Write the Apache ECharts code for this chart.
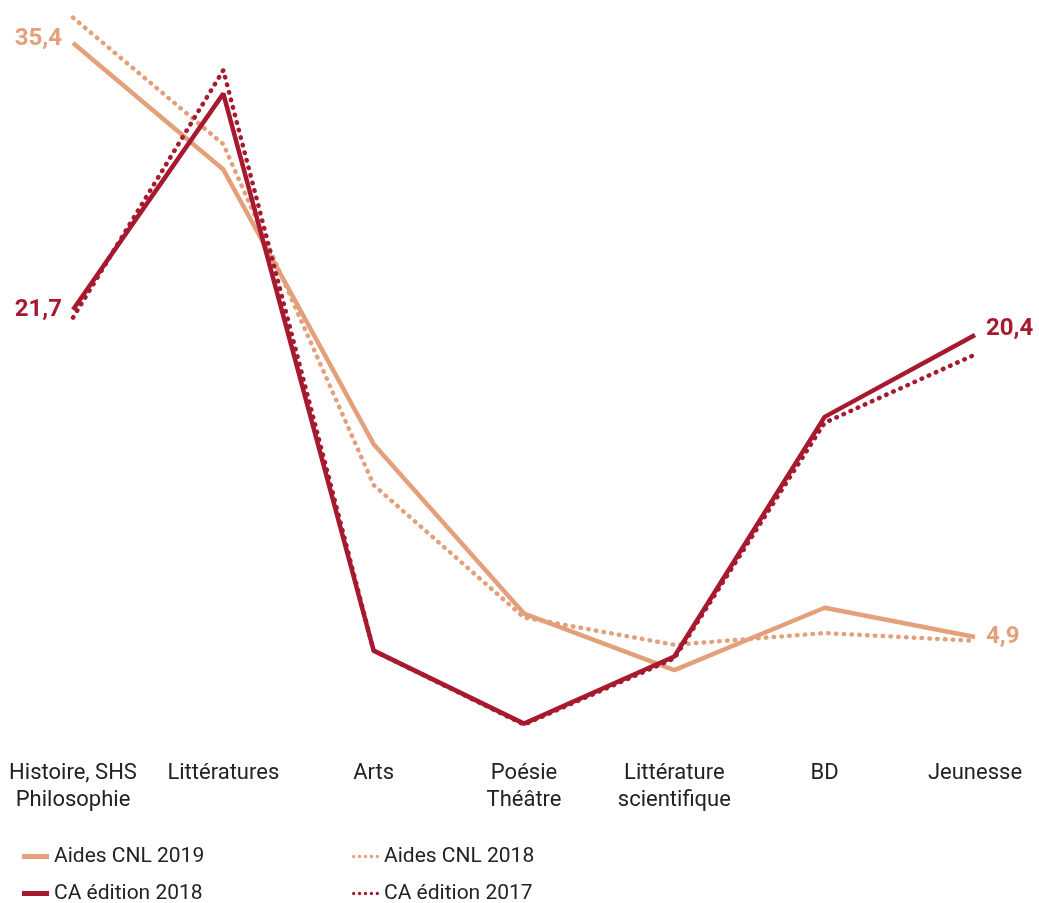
<!DOCTYPE html>
<html><head><meta charset="utf-8">
<script src="https://cdn.jsdelivr.net/npm/echarts@6/dist/echarts.min.js"></script>
<style>html,body{margin:0;padding:0;background:#fff}#c{width:1039px;height:903px}</style>
</head><body><div id="c"></div>
<script>
const categories = ['Histoire, SHS\nPhilosophie', 'Littératures', 'Arts', 'Poésie\nThéâtre', 'Littérature\nscientifique', 'BD', 'Jeunesse'];
const aides2019 = [35.4, 28.9, 14.8, 6.1, 3.2, 6.4, 4.9];
const aides2018 = [36.7, 30.2, 12.7, 5.9, 4.5, 5.1, 4.7];
const ca2018 = [21.7, 32.8, 4.2, 0.45, 3.9, 16.2, 20.4];
const ca2017 = [21.3, 34.0, 4.2, 0.4, 3.8, 15.9, 19.4];

const LIGHT = '#e3a07b';
const DARK = '#a6192e';
const FONT = 'Roboto, "DejaVu Sans", sans-serif';

function fmt(v){ return String(v).replace('.', ','); }
function labelled(arr, idxs, color){
  return arr.map((v,i)=>{
    const cfg = idxs[i];
    if(!cfg) return v;
    return {value: v, label: {show: true, position: cfg.pos, offset: cfg.offset || [0,0], distance: 11,
      formatter: fmt(v), color: color, fontSize: 24, fontWeight: 'bold', fontFamily: FONT}};
  });
}
const DOTS = 'path://M1,1m-1,0a1,1 0 1,0 2,0a1,1 0 1,0 -2,0M4.5,1m-1,0a1,1 0 1,0 2,0a1,1 0 1,0 -2,0M8,1m-1,0a1,1 0 1,0 2,0a1,1 0 1,0 -2,0M11.5,1m-1,0a1,1 0 1,0 2,0a1,1 0 1,0 -2,0M15,1m-1,0a1,1 0 1,0 2,0a1,1 0 1,0 -2,0';

const chart = echarts.init(document.getElementById('c'), null, {renderer: 'canvas'});
const dotted = (c) => ({color: c, width: 4.5, type: [0.5, 7.3], cap: 'round'});
const legendText = {color: '#222', fontSize: 21, fontFamily: FONT};
function leg(id, left, top, name, icon){
  return {id: id, left: left, top: top, orient: 'horizontal', itemWidth: 27, itemHeight: 5,
    textStyle: legendText, data: [{name: name, icon: icon}]};
}
chart.setOption({
  animation: false,
  grid: {left: 73, right: 64, top: 11.8, bottom: 170.6},
  xAxis: {type: 'category', data: categories, boundaryGap: false,
    axisLine: {show: false}, axisTick: {show: false}, splitLine: {show: false},
    axisLabel: {color: '#222', fontSize: 22, fontFamily: FONT, lineHeight: 27, margin: 28, interval: 0}},
  yAxis: {type: 'value', min: 0, max: 37, show: false, splitLine: {show: false}},
  legend: [
    leg('l1', 17, 841, 'Aides CNL 2019', 'rect'),
    leg('l2', 17, 878, 'CA édition 2018', 'rect'),
    leg('l3', 347, 841, 'Aides CNL 2018', DOTS),
    leg('l4', 347, 878, 'CA édition 2017', DOTS)
  ],
  series: [
    {name: 'Aides CNL 2018', type: 'line', data: aides2018, symbol: 'none', clip: false, lineStyle: dotted(LIGHT), itemStyle: {color: LIGHT}, z: 1},
    {name: 'Aides CNL 2019', type: 'line', data: labelled(aides2019, {0: {pos: 'left', offset: [0,-4]}, 6: {pos: 'right'}}, LIGHT),
     symbol: 'circle', symbolSize: 0.1, showSymbol: true, clip: false,
     lineStyle: {color: LIGHT, width: 4.5}, itemStyle: {color: LIGHT}, z: 2},
    {name: 'CA édition 2017', type: 'line', data: ca2017, symbol: 'none', clip: false, lineStyle: dotted(DARK), itemStyle: {color: DARK}, z: 3},
    {name: 'CA édition 2018', type: 'line', data: labelled(ca2018, {0: {pos: 'left'}, 6: {pos: 'right', offset: [0,-6]}}, DARK),
     symbol: 'circle', symbolSize: 0.1, showSymbol: true, clip: false,
     lineStyle: {color: DARK, width: 4.5}, itemStyle: {color: DARK}, z: 4}
  ]
});
</script></body></html>
